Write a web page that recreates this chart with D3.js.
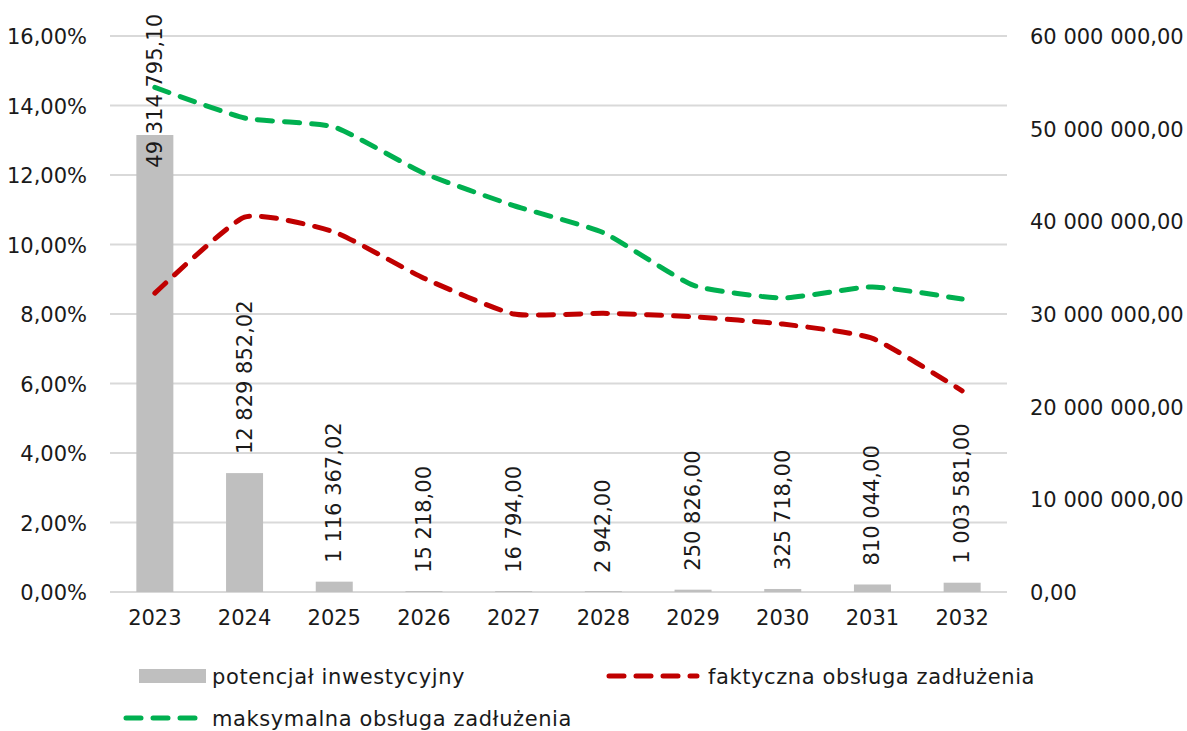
<!doctype html>
<html lang="pl">
<head>
  <meta charset="UTF-8">
  <title>potencjał inwestycyjny</title>
  <style type="text/css">
    body { margin: 0; background: #fff; }
    text { font-family: "Century Gothic", "DejaVu Sans", sans-serif; fill: #1a1a1a; }
  </style>
  <script src="https://cdn.jsdelivr.net/npm/d3@7"></script>
</head>
<body>
  <div id="container"></div>
  <script>
    // dane
    var years = ['2023', '2024', '2025', '2026', '2027', '2028', '2029', '2030', '2031', '2032'];
    var potencjal = [49314795.10, 12829852.02, 1116367.02, 15218.00, 16794.00, 2942.00, 250826.00, 325718.00, 810044.00, 1003581.00];
    var faktyczna = [0.0860, 0.1079, 0.1036, 0.0903, 0.0800, 0.0802, 0.0792, 0.0771, 0.0730, 0.0579];
    var maksymalna = [0.1452, 0.1364, 0.1338, 0.1205, 0.1112, 0.1034, 0.0883, 0.0846, 0.0878, 0.0843];
    var leftTicks = [0, 0.02, 0.04, 0.06, 0.08, 0.10, 0.12, 0.14, 0.16];
    var rightTicks = [0, 10000000, 20000000, 30000000, 40000000, 50000000, 60000000];

    var width = 1187, height = 731,
      margin = { left: 110, top: 36, right: 180, bottom: 139 },
      g_width = width - margin.left - margin.right,
      g_height = height - margin.top - margin.bottom;

    var pl = d3.formatLocale({ decimal: ',', thousands: ' ', grouping: [3], currency: ['', ''] });
    var fmtPct = pl.format('.2%');
    var fmtNum = pl.format(',.2f');

    var svg = d3.select('#container').append('svg').attr('width', width).attr('height', height);
    var g = svg.append('g').attr('transform', 'translate(' + margin.left + ',' + margin.top + ')');

    var x = d3.scaleBand().domain(years).range([0, g_width]);
    var yL = d3.scaleLinear().domain([0, 0.16]).range([g_height, 0]);
    var yR = d3.scaleLinear().domain([0, 60000000]).range([g_height, 0]);

    // siatka
    g.selectAll('.grid').data(leftTicks).enter().append('line')
      .attr('x1', 0).attr('x2', g_width)
      .attr('y1', function (d) { return yL(d); }).attr('y2', function (d) { return yL(d); })
      .attr('stroke', '#d9d9d9').attr('stroke-width', 2);

    // oś lewa
    g.append('g').call(d3.axisLeft(yL).tickValues(leftTicks).tickFormat(fmtPct).tickSize(0).tickPadding(23))
      .call(function (s) { s.select('.domain').remove(); })
      .selectAll('text').style('font-size', '21px').attr('font-family', null).attr('dy', '0.36em');

    // oś prawa
    var ra = g.append('g').attr('transform', 'translate(' + g_width + ',0)')
      .call(d3.axisRight(yR).tickValues(rightTicks).tickFormat(fmtNum).tickSize(0).tickPadding(23));
    ra.select('.domain').remove();
    ra.selectAll('text').style('font-size', '21px').attr('font-family', null).attr('dy', '0.36em');

    // oś X
    var xa = g.append('g').attr('transform', 'translate(0,' + g_height + ')')
      .call(d3.axisBottom(x).tickSize(0).tickPadding(18));
    xa.select('.domain').remove();
    xa.selectAll('text').style('font-size', '21px').attr('font-family', null);

    // słupki
    var bw = 37;
    g.selectAll('.bar').data(potencjal).enter().append('rect')
      .attr('x', function (d, i) { return x(years[i]) + x.bandwidth() / 2 - bw / 2; })
      .attr('width', bw)
      .attr('y', function (d) { return Math.min(yR(d), g_height - 1); })
      .attr('height', function (d) { return Math.max(g_height - yR(d), 1); })
      .attr('fill', '#bfbfbf');

    // etykiety słupków
    var labels = g.selectAll('.lbl').data(potencjal).enter().append('text')
      .attr('text-anchor', 'start')
      .style('font-size', '21px')
      .text(function (d) { return fmtNum(d); });
    labels.each(function (d, i) {
      var len = this.getComputedTextLength();
      var bottom = yR(d) - 19;
      if (bottom - len < -22) bottom = -22 + len;
      var cx = x(years[i]) + x.bandwidth() / 2 + 7;
      d3.select(this).attr('transform', 'translate(' + cx + ',' + bottom + ') rotate(-90)');
    });

    // linie
    var line = function (data) {
      return d3.line()
        .x(function (d, i) { return x(years[i]) + x.bandwidth() / 2; })
        .y(function (d) { return yL(d); })
        .curve(d3.curveCardinal.tension(0.5))(data);
    };
    g.append('path').attr('d', line(maksymalna)).attr('fill', 'none')
      .attr('stroke', '#00b050').attr('stroke-width', 5).attr('stroke-linecap', 'round')
      .attr('stroke-dasharray', '15 12');
    g.append('path').attr('d', line(faktyczna)).attr('fill', 'none')
      .attr('stroke', '#c00000').attr('stroke-width', 5).attr('stroke-linecap', 'round')
      .attr('stroke-dasharray', '15 12');

    // legenda
    var lg = svg.append('g').style('letter-spacing', '0.6px');
    lg.append('rect').attr('x', 139).attr('y', 669).attr('width', 67).attr('height', 14).attr('fill', '#bfbfbf');
    lg.append('text').attr('x', 212).attr('y', 676).attr('dy', '0.36em').style('font-size', '21px').text('potencjał inwestycyjny');
    lg.append('line').attr('x1', 609).attr('x2', 697).attr('y1', 676).attr('y2', 676)
      .attr('stroke', '#c00000').attr('stroke-width', 5).attr('stroke-linecap', 'round').attr('stroke-dasharray', '15 12');
    lg.append('text').attr('x', 708).attr('y', 676).attr('dy', '0.36em').style('font-size', '21px').text('faktyczna obsługa zadłużenia');
    lg.append('line').attr('x1', 126).attr('x2', 200).attr('y1', 718).attr('y2', 718)
      .attr('stroke', '#00b050').attr('stroke-width', 5).attr('stroke-linecap', 'round').attr('stroke-dasharray', '15 12');
    lg.append('text').attr('x', 212).attr('y', 718).attr('dy', '0.36em').style('font-size', '21px').text('maksymalna obsługa zadłużenia');
  </script>
</body>
</html>
